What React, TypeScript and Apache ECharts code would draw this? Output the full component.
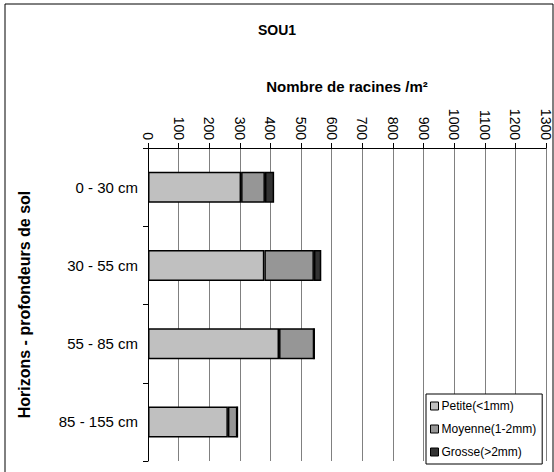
import React, { useEffect, useRef } from "react";
import * as echarts from "echarts";

const categories = ["0 - 30 cm", "30 - 55 cm", "55 - 85 cm", "85 - 155 cm"];
const petite = [304, 380, 428, 261];
const moyenne = [78, 162, 115, 31];
const grosse = [30, 24, 0, 0];
const seriesNames = ["Petite(<1mm)", "Moyenne(1-2mm)", "Grosse(>2mm)"];
const seriesColors = ["#C0C0C0", "#969696", "#333333"];

const FONT = "'Liberation Sans', Arial, sans-serif";

export default function App() {
  const ref = useRef<HTMLDivElement>(null);
  useEffect(() => {
    if (!ref.current) return;
    const chart = echarts.init(ref.current, null, { renderer: "svg" });
    const values = [petite, moyenne, grosse];
    chart.setOption({
      animation: false,
      backgroundColor: "#ffffff",
      textStyle: { fontFamily: FONT },
      title: {
        text: "SOU1",
        left: "center",
        top: 18,
        textStyle: { fontFamily: FONT, fontSize: 14, fontWeight: "bold", color: "#000" },
      },
      graphic: [
        {
          type: "rect",
          shape: { x: 5, y: 4, width: 548, height: 480 },
          style: { fill: "none", stroke: "#000", lineWidth: 1 },
          silent: true,
          z: -1,
        },
      ],
      legend: {
        orient: "vertical",
        left: 426,
        top: 394,
        width: 125,
        height: 68,
        padding: [6, 6, 6, 4],
        itemWidth: 8,
        itemHeight: 8,
        itemGap: 11,
        backgroundColor: "#ffffff",
        borderColor: "#000",
        borderWidth: 1,
        icon: "rect",
        itemStyle: { borderColor: "#000", borderWidth: 1 },
        textStyle: { fontFamily: FONT, fontSize: 12, color: "#000", padding: [0, 0, 0, -2] },
        data: seriesNames,
        z: 10,
      },
      grid: { left: 148, top: 148, width: 398, height: 313, containLabel: false },
      xAxis: {
        type: "value",
        position: "top",
        min: 0,
        max: 1300,
        interval: 100,
        name: "Nombre de racines /m²",
        nameLocation: "middle",
        nameGap: 54,
        nameTextStyle: { fontFamily: FONT, fontSize: 15, fontWeight: "bold", color: "#000" },
        axisLine: { show: true, lineStyle: { color: "#000", width: 1 } },
        axisTick: { show: true, length: 5, lineStyle: { color: "#000" } },
        axisLabel: {
          rotate: 90,
          fontSize: 14,
          color: "#000",
          fontFamily: FONT,
          margin: 8,
          formatter: (v: number) => String(v),
        },
        splitLine: { show: true, lineStyle: { color: "#808080", width: 1 } },
      },
      yAxis: {
        type: "category",
        inverse: true,
        data: categories,
        name: "Horizons - profondeurs de sol",
        nameLocation: "middle",
        nameGap: 116,
        nameTextStyle: { fontFamily: FONT, fontSize: 16, fontWeight: "bold", color: "#000" },
        axisLine: { show: true, lineStyle: { color: "#000", width: 1 } },
        axisTick: { show: true, length: 5, lineStyle: { color: "#000" } },
        axisLabel: { fontSize: 15, color: "#000", fontFamily: FONT, margin: 10 },
        splitLine: { show: false },
      },
      series: seriesNames.map((name, i) => ({
        name,
        type: "bar",
        stack: "total",
        barWidth: 31,
        data: values[i],
        itemStyle: { color: seriesColors[i], borderColor: "#000", borderWidth: 1.5 },
      })),
    });
    return () => chart.dispose();
  }, []);
  return (
    <div
      ref={ref}
      style={{ position: "fixed", left: 0, top: 0, width: 554, height: 472 }}
    />
  );
}
